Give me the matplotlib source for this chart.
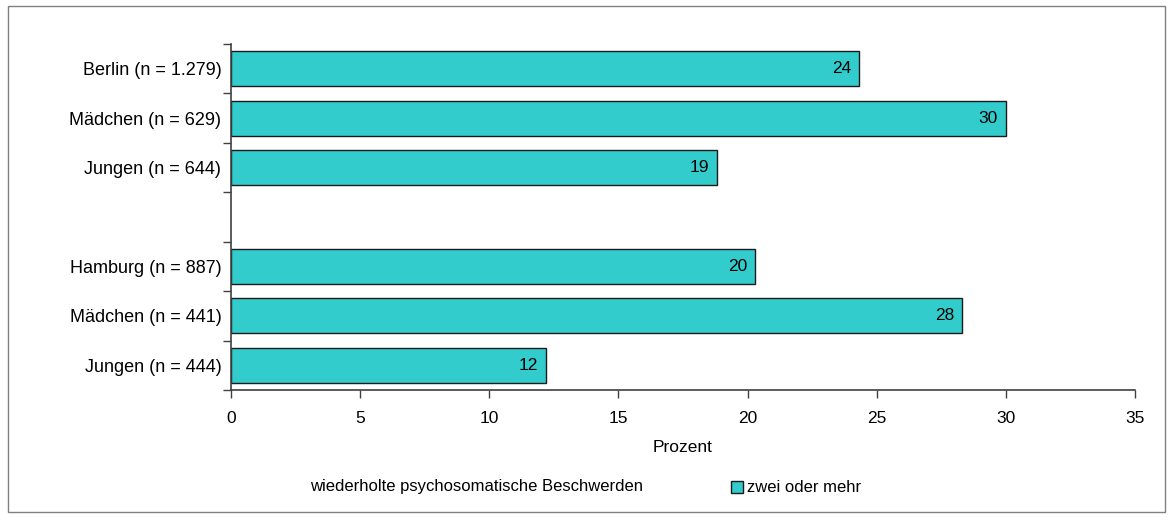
import numpy as np
import matplotlib.pyplot as plt
from matplotlib.patches import Rectangle

plt.rcParams['font.family'] = ['Liberation Sans', 'DejaVu Sans']

labels = ["Berlin (n = 1.279)", "Mädchen (n = 629)", "Jungen (n = 644)", "",
          "Hamburg (n = 887)", "Mädchen (n = 441)", "Jungen (n = 444)"]
values = [24.3, 30.0, 18.8, np.nan, 20.3, 28.3, 12.2]
value_labels = ["24", "30", "19", "", "20", "28", "12"]
series_name = "zwei oder mehr"
legend_title = "wiederholte psychosomatische Beschwerden"
color = "#33CCCC"

fig = plt.figure(figsize=(11.73, 5.2), dpi=100)
ax = fig.add_axes([231 / 1173, 1 - 390 / 520, 904 / 1173, 346 / 520])

y = np.arange(len(labels))
vals = np.array(values)
mask = ~np.isnan(vals)
ax.barh(y[mask], vals[mask], height=0.71, color=color, edgecolor="#1a1a1a", linewidth=1.0)
for yi, v, t in zip(y, vals, value_labels):
    if t:
        ax.text(v - 0.3, yi, t, ha="right", va="center", fontsize=12.5)

ax.set_xlim(0, 35)
ax.set_ylim(len(labels) - 0.5, -0.5)
ax.set_xticks(np.arange(0, 36, 5))
ax.set_yticks(y)
ax.set_yticklabels(labels, fontsize=13)
ax.set_yticks(np.arange(-0.5, len(labels), 1), minor=True)
ax.tick_params(axis="y", which="major", length=0, pad=7)
ax.tick_params(axis="y", which="minor", length=6, color="#404040", width=1)
ax.tick_params(axis="x", length=6, color="#404040", width=1, labelsize=12.5, pad=9)
for s in ["top", "right"]:
    ax.spines[s].set_visible(False)
for s in ["left", "bottom"]:
    ax.spines[s].set_color("#404040")
    ax.spines[s].set_linewidth(1.2)

ax.set_xlabel("Prozent", fontsize=12.5, labelpad=10)

fig.text(310 / 1173, 1 - 487 / 520, legend_title, fontsize=12, va="center", ha="left")
fig.patches.append(Rectangle((731 / 1173, 1 - 493 / 520), 12 / 1173, 12 / 520,
                             transform=fig.transFigure, facecolor=color,
                             edgecolor="#1a1a1a", linewidth=1.0))
fig.text(747 / 1173, 1 - 487 / 520, series_name, fontsize=12, va="center", ha="left")

fig.patches.append(Rectangle((8 / 1173, 8 / 520), 1157 / 1173, 506 / 520,
                             transform=fig.transFigure, fill=False,
                             edgecolor="#808080", linewidth=1.0))

fig.savefig("out.png", dpi=100)
